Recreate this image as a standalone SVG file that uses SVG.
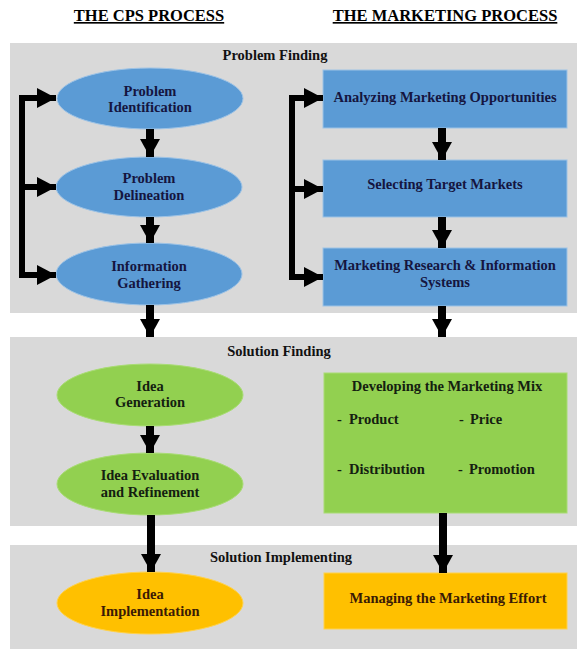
<svg xmlns="http://www.w3.org/2000/svg" width="588" height="653" viewBox="0 0 588 653">
<style>
.band{fill:#D9D9D9}
.blue{fill:#5B9BD5;stroke:#9DC3E6;stroke-width:1}
.green{fill:#92D050;stroke:#A9DC74;stroke-width:1}
.orange{fill:#FFC000;stroke:#FFD24D;stroke-width:1}
text{font-family:'Liberation Serif',serif;font-weight:bold;text-anchor:middle}
.t{font-size:14.5px}
.bt{fill:#15153F}
.gt{fill:#142010}
.ot{fill:#3A1A05}
.hd{font-size:14.5px;fill:#111}
.title{font-size:16.5px;fill:#000;text-decoration:underline}
.sh{stroke:#000;fill:none}
.ar{stroke:#000;stroke-width:8;fill:none;marker-end:url(#ah)}
.arh{stroke:#000;stroke-width:6;fill:none;marker-end:url(#ahh)}
.it{text-anchor:start;font-size:14.5px;fill:#142010}
</style>
<defs>
<marker id="ah" viewBox="0 0 18 20" markerUnits="userSpaceOnUse" markerWidth="18" markerHeight="20" refX="18" refY="10" orient="auto"><path d="M0,0 L18,10 L0,20 Z" fill="#000"/></marker>
<marker id="ahh" viewBox="0 0 19 20" markerUnits="userSpaceOnUse" markerWidth="19" markerHeight="20" refX="19" refY="10" orient="auto"><path d="M0,0 L19,10 L0,20 Z" fill="#000"/></marker>
</defs>
<rect width="588" height="653" fill="#fff"/>
<g font-family="Liberation Serif, serif">
<g id="titles">
<text class="title" x="149" y="21">THE CPS PROCESS</text>
<text class="title" x="445" y="21">THE MARKETING PROCESS</text>
</g>
<g id="band-problem-finding">
<rect class="band" x="10" y="43" width="567" height="270"/>
<text class="hd" x="275" y="60">Problem Finding</text>
</g>
<g id="band-solution-finding">
<rect class="band" x="10" y="337" width="567" height="189"/>
<text class="hd" x="279" y="356">Solution Finding</text>
</g>
<g id="band-solution-implementing">
<rect class="band" x="10" y="545" width="567" height="104"/>
<text class="hd" x="281" y="562">Solution Implementing</text>
</g>
<g id="problem-identification">
<ellipse class="blue" cx="150" cy="98.5" rx="93" ry="30.5"/>
<text class="t bt" x="150" y="96">Problem</text>
<text class="t bt" x="150" y="112">Identification</text>
</g>
<g id="problem-delineation">
<ellipse class="blue" cx="149" cy="187" rx="93" ry="30"/>
<text class="t bt" x="149" y="183">Problem</text>
<text class="t bt" x="149" y="200">Delineation</text>
</g>
<g id="information-gathering">
<ellipse class="blue" cx="149" cy="274" rx="93" ry="31"/>
<text class="t bt" x="149" y="271">Information</text>
<text class="t bt" x="149" y="288">Gathering</text>
</g>
<g id="analyzing-marketing-opportunities">
<rect class="blue" x="323" y="70" width="244" height="58"/>
<text class="t bt" x="445" y="102">Analyzing Marketing Opportunities</text>
</g>
<g id="selecting-target-markets">
<rect class="blue" x="323" y="160" width="244" height="57"/>
<text class="t bt" x="445" y="189">Selecting Target Markets</text>
</g>
<g id="marketing-research">
<rect class="blue" x="323" y="248" width="244" height="58"/>
<text class="t bt" x="445" y="270">Marketing Research &amp; Information</text>
<text class="t bt" x="445" y="287">Systems</text>
</g>
<g id="idea-generation">
<ellipse class="green" cx="150" cy="395" rx="93" ry="31"/>
<text class="t gt" x="150" y="391">Idea</text>
<text class="t gt" x="150" y="407">Generation</text>
</g>
<g id="idea-evaluation">
<ellipse class="green" cx="150" cy="484" rx="93" ry="31"/>
<text class="t gt" x="150" y="480">Idea Evaluation</text>
<text class="t gt" x="150" y="497">and Refinement</text>
</g>
<g id="marketing-mix">
<rect class="green" x="324" y="373" width="243" height="140"/>
<text class="t gt" x="447" y="391">Developing the Marketing Mix</text>
<text class="it" y="424"><tspan x="337">-</tspan><tspan x="349">Product</tspan></text>
<text class="it" y="424"><tspan x="459">-</tspan><tspan x="470">Price</tspan></text>
<text class="it" y="474"><tspan x="337">-</tspan><tspan x="349">Distribution</tspan></text>
<text class="it" y="474"><tspan x="458">-</tspan><tspan x="469">Promotion</tspan></text>
</g>
<g id="idea-implementation">
<ellipse class="orange" cx="150" cy="603" rx="93" ry="31"/>
<text class="t ot" x="150" y="599">Idea</text>
<text class="t ot" x="150" y="616">Implementation</text>
</g>
<g id="managing-marketing-effort">
<rect class="orange" x="324" y="573" width="243" height="56"/>
<text class="t ot" x="448" y="603">Managing the Marketing Effort</text>
</g>
</g>
<g id="connectors">
<path class="sh" stroke-width="6" d="M22,95 V278"/>
<line class="arh" x1="19" y1="98" x2="56" y2="98"/>
<line class="arh" x1="22" y1="187" x2="56" y2="187"/>
<line class="arh" x1="19" y1="275" x2="56" y2="275"/>
<path class="sh" stroke-width="6" d="M292,95 V280"/>
<line class="arh" x1="289" y1="98" x2="323" y2="98"/>
<line class="arh" x1="292" y1="189" x2="323" y2="189"/>
<line class="arh" x1="289" y1="277" x2="323" y2="277"/>
<line class="ar" x1="150" y1="129" x2="150" y2="157"/>
<line class="ar" x1="150" y1="217" x2="150" y2="243"/>
<line class="ar" x1="150" y1="305" x2="150" y2="337"/>
<line class="ar" x1="150" y1="426" x2="150" y2="453"/>
<line class="ar" x1="151" y1="515" x2="151" y2="572"/>
<line class="ar" x1="442" y1="128" x2="442" y2="160"/>
<line class="ar" x1="442" y1="217" x2="442" y2="248"/>
<line class="ar" x1="442" y1="306" x2="442" y2="337"/>
<line class="ar" x1="443" y1="513" x2="443" y2="573"/>
</g>
</svg>
